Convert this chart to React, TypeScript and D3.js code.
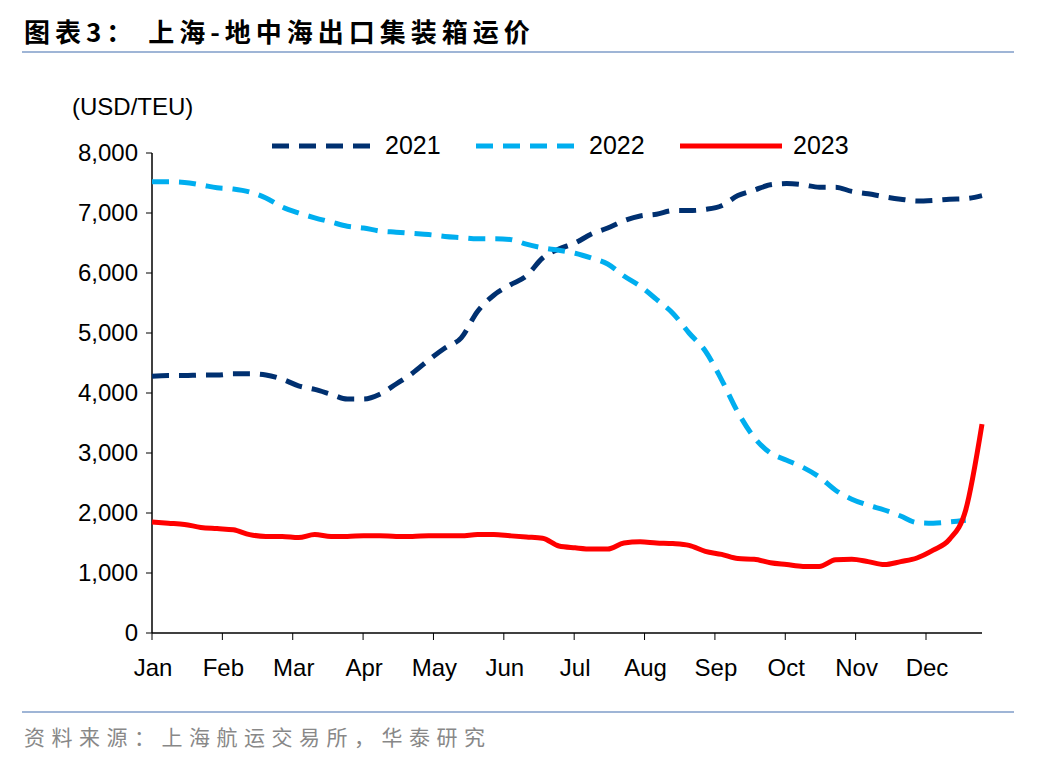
import React from 'react';
import * as d3 from 'd3';

const months = ['Jan', 'Feb', 'Mar', 'Apr', 'May', 'Jun', 'Jul', 'Aug', 'Sep', 'Oct', 'Nov', 'Dec'];
const yTicks = [0, 1000, 2000, 3000, 4000, 5000, 6000, 7000, 8000];

const s2021 = [4280, 4290, 4290, 4300, 4300, 4320, 4320, 4300, 4230, 4120, 4060, 3980, 3900, 3900, 3980, 4150, 4330, 4550, 4750, 4920, 5360, 5630, 5800, 5950, 6250, 6400, 6500, 6650, 6750, 6870, 6950, 6980, 7040, 7040, 7060, 7120, 7290, 7380, 7470, 7490, 7470, 7430, 7430, 7360, 7320, 7270, 7230, 7200, 7210, 7230, 7240, 7290];
const s2022 = [7520, 7520, 7510, 7470, 7420, 7400, 7350, 7250, 7100, 7000, 6920, 6850, 6780, 6750, 6700, 6680, 6660, 6640, 6610, 6590, 6570, 6570, 6560, 6480, 6420, 6380, 6330, 6250, 6150, 5950, 5780, 5560, 5330, 5000, 4700, 4220, 3680, 3260, 3000, 2880, 2760, 2600, 2380, 2230, 2130, 2050, 1950, 1840, 1830, 1850, 1880];
const s2023 = [1850, 1830, 1810, 1760, 1740, 1720, 1640, 1610, 1610, 1590, 1640, 1610, 1610, 1620, 1620, 1610, 1610, 1620, 1620, 1620, 1640, 1640, 1620, 1600, 1580, 1450, 1420, 1400, 1400, 1500, 1520, 1500, 1490, 1460, 1360, 1310, 1240, 1230, 1170, 1140, 1110, 1110, 1220, 1230, 1190, 1140, 1190, 1250, 1380, 1560, 2050, 3480];

const series = [
  { name: '2021', data: s2021, color: '#003070', dash: '17,10' },
  { name: '2022', data: s2022, color: '#00AEEF', dash: '17,10' },
  { name: '2023', data: s2023, color: '#FF0000', dash: '' },
];

const App: React.FC = () => {
  const x = d3.scaleLinear().domain([0, 51]).range([152, 982]);
  const y = d3.scaleLinear().domain([0, 8000]).range([633, 153]);
  const mx = d3.scalePoint<string>().domain(months).range([152, 926]);
  const line = d3.line<number>().x((_, i) => x(i)).y(d => y(d)).curve(d3.curveMonotoneX);
  const font = 'Liberation Sans, Arial, sans-serif';
  const legendX = [272, 476, 680];

  return (
    <svg width={1048} height={760} style={{ position: 'absolute', left: 0, top: 0 }} fontFamily={font}>
      <rect width={1048} height={760} fill="#fff" />
      <text x={24} y={42} fontSize={26} fontWeight="bold" fontFamily="Noto Sans CJK SC" fill="#000" letterSpacing={5}>图表3：  上海-地中海出口集装箱运价</text>
      <line x1={22} x2={1014} y1={52} y2={52} stroke="#7f9cc8" strokeWidth={1.5} />
      <line x1={22} x2={1014} y1={712} y2={712} stroke="#7f9cc8" strokeWidth={1.5} />
      <text x={24} y={745} fontSize={21} fontFamily="Noto Sans CJK SC" fill="#888" letterSpacing={6.5}>资料来源：上海航运交易所，华泰研究</text>

      <text x={72} y={115} fontSize={24}>(USD/TEU)</text>
      {yTicks.map(t => (
        <g key={t}>
          <line x1={146} x2={152} y1={y(t)} y2={y(t)} stroke="#000" />
          <text x={138} y={y(t) + 8} fontSize={24} textAnchor="end">{d3.format(',')(t)}</text>
        </g>
      ))}
      <line x1={152} x2={152} y1={153} y2={633} stroke="#000" strokeWidth={1.5} />
      <line x1={152} x2={982} y1={633} y2={633} stroke="#000" strokeWidth={1.5} />
      {months.map(m => (
        <g key={m}>
          <line x1={mx(m)} x2={mx(m)} y1={633} y2={640} stroke="#000" />
          <text x={mx(m)! + 1} y={676} fontSize={24} textAnchor="middle">{m}</text>
        </g>
      ))}

      {series.map(s => (
        <path key={s.name} d={line(s.data)!} fill="none" stroke={s.color} strokeWidth={5} strokeDasharray={s.dash} />
      ))}

      {series.map((s, i) => (
        <g key={s.name}>
          <line x1={legendX[i]} x2={legendX[i] + 102} y1={146} y2={146} stroke={s.color} strokeWidth={5} strokeDasharray={s.dash} />
          <text x={legendX[i] + 113} y={154} fontSize={25}>{s.name}</text>
        </g>
      ))}
    </svg>
  );
};

export default App;
